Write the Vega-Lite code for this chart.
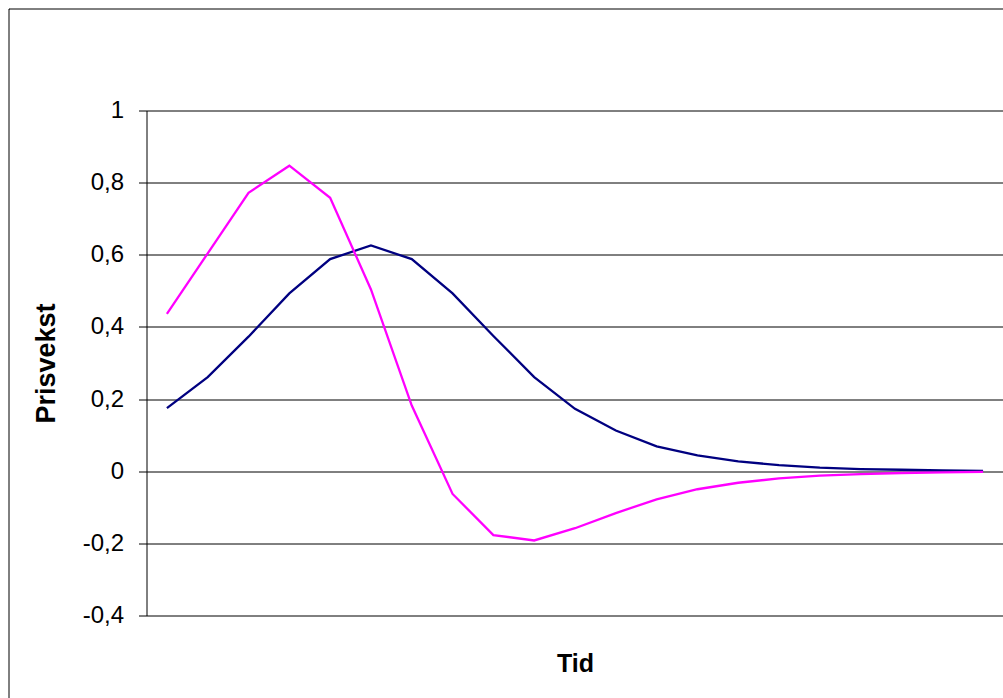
{
  "$schema": "https://vega.github.io/schema/vega-lite/v6.json",
  "autosize": "none",
  "width": 994.5,
  "height": 689.5,
  "padding": {"left": 8.5, "top": 8.5, "right": 0, "bottom": 0},
  "background": "white",
  "config": {
    "view": {"stroke": "#000000", "strokeWidth": 1, "strokeDash": [994.5, 1684, 689.5, 1]},
    "font": "Liberation Sans",
    "locale": {"number": {"decimal": ",", "thousands": " ", "grouping": [3], "currency": ["", ""], "minus": "-"}}
  },
  "data": {"values": [
    {"t": 1, "serie": "A", "v": 0.175}, {"t": 2, "serie": "A", "v": 0.261}, {"t": 3, "serie": "A", "v": 0.373},
    {"t": 4, "serie": "A", "v": 0.493}, {"t": 5, "serie": "A", "v": 0.588}, {"t": 6, "serie": "A", "v": 0.626},
    {"t": 7, "serie": "A", "v": 0.588}, {"t": 8, "serie": "A", "v": 0.493}, {"t": 9, "serie": "A", "v": 0.375},
    {"t": 10, "serie": "A", "v": 0.261}, {"t": 11, "serie": "A", "v": 0.173}, {"t": 12, "serie": "A", "v": 0.113},
    {"t": 13, "serie": "A", "v": 0.069}, {"t": 14, "serie": "A", "v": 0.044}, {"t": 15, "serie": "A", "v": 0.027},
    {"t": 16, "serie": "A", "v": 0.017}, {"t": 17, "serie": "A", "v": 0.010}, {"t": 18, "serie": "A", "v": 0.006},
    {"t": 19, "serie": "A", "v": 0.004}, {"t": 20, "serie": "A", "v": 0.002}, {"t": 21, "serie": "A", "v": 0.001},
    {"t": 1, "serie": "B", "v": 0.436}, {"t": 2, "serie": "B", "v": 0.604}, {"t": 3, "serie": "B", "v": 0.772},
    {"t": 4, "serie": "B", "v": 0.847}, {"t": 5, "serie": "B", "v": 0.758}, {"t": 6, "serie": "B", "v": 0.504},
    {"t": 7, "serie": "B", "v": 0.182}, {"t": 8, "serie": "B", "v": -0.063}, {"t": 9, "serie": "B", "v": -0.177},
    {"t": 10, "serie": "B", "v": -0.192}, {"t": 11, "serie": "B", "v": -0.158}, {"t": 12, "serie": "B", "v": -0.116},
    {"t": 13, "serie": "B", "v": -0.078}, {"t": 14, "serie": "B", "v": -0.050}, {"t": 15, "serie": "B", "v": -0.032},
    {"t": 16, "serie": "B", "v": -0.020}, {"t": 17, "serie": "B", "v": -0.012}, {"t": 18, "serie": "B", "v": -0.008},
    {"t": 19, "serie": "B", "v": -0.005}, {"t": 20, "serie": "B", "v": -0.003}, {"t": 21, "serie": "B", "v": -0.002}
  ]},
  "mark": {"type": "line", "strokeWidth": 2.3},
  "encoding": {
    "x": {
      "field": "t", "type": "ordinal",
      "scale": {"type": "point", "padding": 0.5, "range": [138, 995]},
      "axis": {"title": "Tid", "labels": false, "ticks": false, "domain": false, "grid": false, "offset": -83,
        "titleFont": "Liberation Sans", "titleFontSize": 25, "titleFontWeight": "bold", "titleColor": "black", "titlePadding": 36}
    },
    "y": {
      "field": "v", "type": "quantitative",
      "scale": {"domain": [-0.4, 1], "nice": false, "zero": false, "range": [607, 102]},
      "axis": {"title": "Prisvekst", "values": [-0.4, -0.2, 0, 0.2, 0.4, 0.6, 0.8, 1], "format": ".1~f", "offset": -138,
        "labelFont": "Liberation Sans", "labelFontSize": 24, "labelColor": "black", "labelPadding": 15,
        "tickSize": 8, "tickColor": "black", "domainColor": "black", "gridColor": "black", "gridOpacity": 1, "gridWidth": 1,
        "titleFont": "Liberation Sans", "titleFontSize": 27, "titleFontWeight": "bold", "titleColor": "black", "titlePadding": 22}
    },
    "color": {"field": "serie", "type": "nominal", "scale": {"domain": ["A", "B"], "range": ["#000080", "#FF00FF"]}, "legend": null}
  }
}
